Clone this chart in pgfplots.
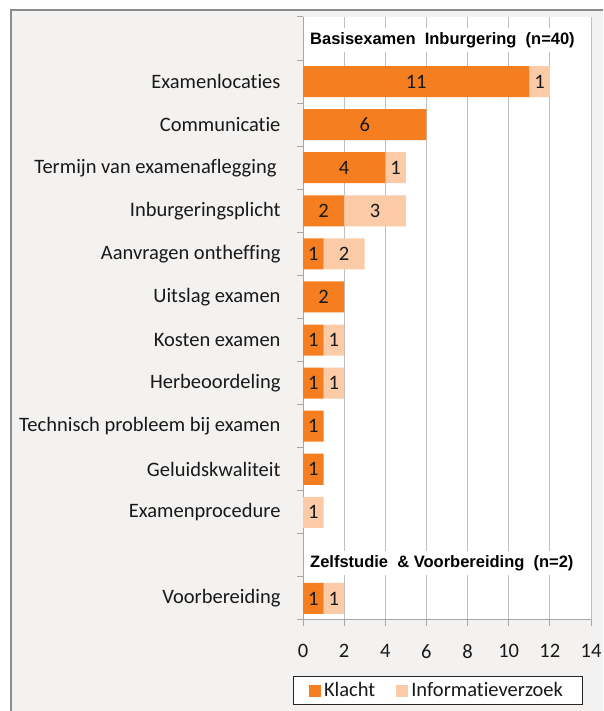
\documentclass[border=0pt]{standalone}
\usepackage{pgfplots}
\pgfplotsset{compat=1.18}
\usepackage{pgfplotstable}
\usepackage{fontspec}
\setmainfont{Carlito}[Ligatures={NoCommon}]
\newfontfamily\hdfont{Liberation Sans}
\definecolor{klacht}{RGB}{245,127,32}
\definecolor{info}{RGB}{251,203,167}
\definecolor{bgc}{RGB}{243,242,241}
\definecolor{framec}{RGB}{140,140,140}
\definecolor{axc}{RGB}{166,166,166}
\definecolor{gridc}{RGB}{191,191,191}

% pos: row (0 = bottom); k = Klacht; i = Informatieverzoek
\pgfplotstableread{
pos k i
0 1 1
2 0 1
3 1 0
4 1 0
5 1 1
6 1 1
7 2 0
8 1 2
9 2 3
10 4 1
11 6 0
12 11 1
}\datatab

\pgfplotsset{
  common/.style={
    at={(303pt,91pt)}, anchor=south west,
    scale only axis, width=288pt, height=603pt,
    xmin=0, xmax=14, ymin=-0.5, ymax=13.5,
    /pgf/number format/assume math mode=true,
  },
  zerohide/.style={
    point meta=explicit,
    nodes near coords={\pgfmathfloatifflags{\pgfplotspointmeta}{0}{}{\pgfmathprintnumber{\pgfplotspointmeta}}},
    nodes near coords style={anchor=center, text=black!90, inner sep=0pt},
    only marks, mark=*, mark size=0pt, mark options={draw=none, fill=none},
  },
}

\begin{document}
\begin{tikzpicture}[font=\fontsize{20.5}{24}\selectfont]
\useasboundingbox (0,0) rectangle (603pt,711pt);
\fill[bgc] (11pt,0) rectangle (603pt,701pt);
\draw[framec, line width=1.8pt] (11pt,0) -- (11pt,701pt) -- (603pt,701pt);
\begin{axis}[
  common,
  xbar stacked, bar width=0.72,
  axis x line*=bottom, axis y line*=left,
  axis line style={axc, line width=1pt},
  axis background/.style={fill=white},
  xtick={0,2,...,14},
  xmajorgrids, grid style={gridc, line width=1pt},
  tick align=outside,
  major tick length=6pt, minor tick length=6pt,
  xtick style={axc, line width=1pt},
  ytick={0,2,3,4,5,6,7,8,9,10,11,12},
  yticklabels={Voorbereiding, Examenprocedure, Geluidskwaliteit, Technisch probleem bij examen, Herbeoordeling, Kosten examen, Uitslag examen, Aanvragen ontheffing, Inburgeringsplicht, {Termijn van examenaflegging\hspace*{4pt}}, Communicatie, Examenlocaties},
  major y tick style={draw=none},
  minor ytick={-0.5,0.5,...,13.5},
  minor y tick style={axc, line width=1pt},
  yticklabel style={xshift=-13pt, text=black!90},
  xticklabel style={yshift=-15pt, text=black!90},
  legend columns=2,
  legend style={at={(axis description cs:0.467,-0.117)}, anchor=center,
    draw=black!85, fill=white, line width=0.8pt,
    /tikz/every even column/.append style={column sep=18pt},
    inner xsep=16pt, inner ysep=4pt,
    nodes={inner xsep=3pt, inner ysep=2pt, text=black!90}},
  legend image code/.code={\fill[#1, draw=none] (0pt,-6pt) rectangle (12pt,6pt);},
]
\addplot[fill=klacht, draw=none] table[x=k, y=pos] {\datatab};
\addlegendentry{Klacht}
\addplot[fill=info, draw=none] table[x=i, y=pos] {\datatab};
\addlegendentry{Informatieverzoek}
\node[anchor=west, fill=white, inner xsep=2pt, inner ysep=4pt,
  font={\hdfont\fontsize{16.5}{19}\selectfont\bfseries}]
  at (axis cs:0,13) [xshift=5pt, yshift=-1.5pt] {Basisexamen~~Inburgering~~(n=40)};
\node[anchor=west, fill=white, inner xsep=2pt, inner ysep=4pt,
  font={\hdfont\fontsize{16.5}{19}\selectfont\bfseries}]
  at (axis cs:0,0.82) [xshift=5pt] {Zelfstudie~~\& Voorbereiding~~(n=2)};
\end{axis}
\begin{axis}[common, hide axis]
\addplot[zerohide] table[x expr=\thisrow{k}/2, y=pos, meta=k] {\datatab};
\addplot[zerohide] table[x expr=\thisrow{k}+\thisrow{i}/2, y=pos, meta=i] {\datatab};
\end{axis}
\end{tikzpicture}
\end{document}
